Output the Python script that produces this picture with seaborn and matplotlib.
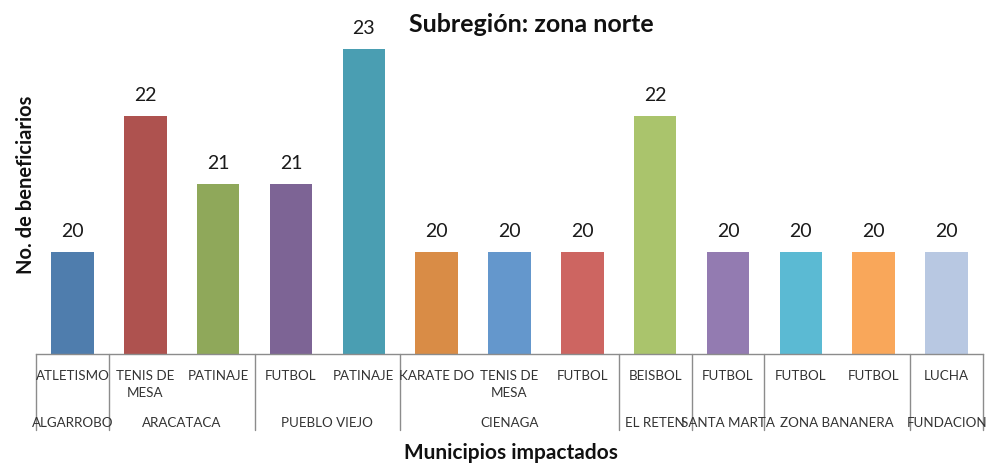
import matplotlib
matplotlib.use("Agg")
import matplotlib.pyplot as plt
import matplotlib.transforms as mtransforms
import seaborn as sns
import pandas as pd

# ---- data ----
sports = ["ATLETISMO", "TENIS DE\nMESA", "PATINAJE", "FUTBOL", "PATINAJE",
          "KARATE DO", "TENIS DE\nMESA", "FUTBOL", "BEISBOL", "FUTBOL",
          "FUTBOL", "FUTBOL", "LUCHA"]
municipios = ["ALGARROBO", "ARACATACA", "ARACATACA", "PUEBLO VIEJO", "PUEBLO VIEJO",
              "CIENAGA", "CIENAGA", "CIENAGA", "EL RETEN", "SANTA MARTA",
              "ZONA BANANERA", "ZONA BANANERA", "FUNDACION"]
beneficiarios = [20, 22, 21, 21, 23, 20, 20, 20, 22, 20, 20, 20, 20]
colors = ["#4F7DAD", "#AE524F", "#8FA85A", "#7D6495", "#4A9EB2", "#D98C46",
          "#6497CC", "#CD6561", "#AAC46C", "#937BB1", "#5BBAD3", "#F9A75A",
          "#B8C8E2"]
title = "Subregión: zona norte"
xlabel = "Municipios impactados"
ylabel = "No. de beneficiarios"

sns.set_theme(style="white")
plt.rcParams["font.family"] = ["Lato", "DejaVu Sans"]

df = pd.DataFrame({"id": [f"c{i}" for i in range(len(sports))],
                   "sport": sports, "mun": municipios, "val": beneficiarios})

W, H = 987, 464
fig = plt.figure(figsize=(W / 100, H / 100), dpi=100)
ax_l, ax_r, ax_b, ax_t = 36, 983, 355, 36
ax = fig.add_axes([ax_l / W, (H - ax_b) / H, (ax_r - ax_l) / W, (ax_b - ax_t) / H])

sns.barplot(data=df, x="id", y="val", hue="id", palette=colors, legend=False,
            width=0.585, ax=ax, saturation=1, linewidth=0)

ax.set_ylim(18.49, 23.2)
ax.set_xlim(-0.5, len(sports) - 0.5)
for s in ["top", "right", "left"]:
    ax.spines[s].set_visible(False)
ax.spines["bottom"].set_color("#8c8c8c")
ax.spines["bottom"].set_linewidth(1.0)
ax.set_yticks([])
ax.set_xticks([])
ax.set_xlabel("")
ax.set_ylabel("")

# value labels
for i, v in enumerate(beneficiarios):
    ax.annotate(str(v), (i, v), xytext=(0, 11.5), textcoords="offset points",
                ha="center", va="baseline", fontsize=14, color="#1a1a1a")

ah = ax_b - ax_t
trans = mtransforms.blended_transform_factory(ax.transData, ax.transAxes)
# sport labels (line by line)
for i, s in enumerate(sports):
    for k, line in enumerate(s.split("\n")):
        base = 380 + k * 16.7
        ax.text(i, -(base - ax_b) / ah, line, transform=trans, ha="center",
                va="baseline", fontsize=9.6, color="#333333")

# municipio group labels and separators
groups = []
for i, m in enumerate(municipios):
    if groups and groups[-1][0] == m:
        groups[-1][2] = i
    else:
        groups.append([m, i, i])
bounds = [-0.5] + [g[2] + 0.5 for g in groups]
for b in bounds:
    ax.plot([b, b], [0, -(431 - ax_b) / ah], transform=trans, color="#8c8c8c",
            lw=1.0, clip_on=False)
for m, a, b in groups:
    ax.text((a + b) / 2, -(427 - ax_b) / ah, m, transform=trans, ha="center",
            va="baseline", fontsize=9.6, color="#333333")

fig.text(531.5 / W, 1 - 32 / H, title, ha="center", va="baseline",
         fontsize=18, fontweight="bold", color="#111111")
fig.text(511 / W, 1 - 459 / H, xlabel, ha="center", va="baseline",
         fontsize=15, fontweight="bold", color="#111111")
fig.text(26 / W, 1 - 185 / H, ylabel, ha="center", va="center", rotation=90,
         fontsize=14.5, fontweight="bold", color="#111111")

fig.savefig("out.png", dpi=100)
